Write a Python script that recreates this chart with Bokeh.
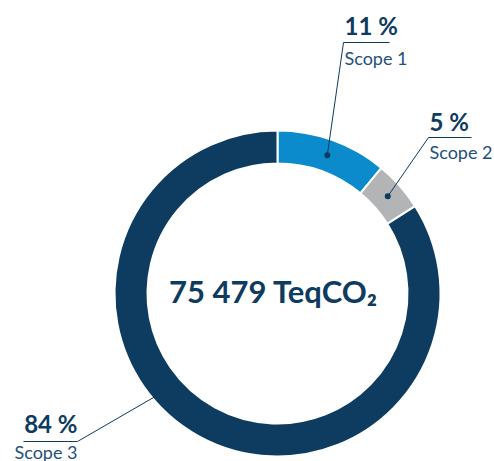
import numpy as np
from bokeh.plotting import figure
from bokeh.models import Range1d
from bokeh.embed import file_html
from bokeh.resources import INLINE
from bokeh.core.properties import value

# ---- data ----
categories = ["Scope 1", "Scope 2", "Scope 3"]
shares = [11, 5, 84]
share_labels = ["11 %", "5 %", "84 %"]
total_label = "75 479 TeqCO\u2082"

# ---- styles ----
colors = ["#0b8bcc", "#b2b4b6", "#0e3c61"]
navy = "#0e3b60"
name_color = "#23507a"
FONT = "Lato"

W, H = 494, 461


def dx(sx):
    return sx


def dy(sy):
    return H - sy


p = figure(width=W, height=H, x_range=Range1d(0, W), y_range=Range1d(0, H),
           output_backend="svg", toolbar_location=None, min_border=0)
p.axis.visible = False
p.grid.visible = False
p.outline_line_color = None

cx, cy = dx(277), dy(293)
R_out, R_in = 163, 130

frac = np.array(shares, dtype=float) / sum(shares)
cum = np.concatenate([[0.0], np.cumsum(frac)])
start = list(np.pi / 2 - 2 * np.pi * cum[1:])
end = list(np.pi / 2 - 2 * np.pi * cum[:-1])
p.annular_wedge(x=cx, y=cy, inner_radius=R_in, outer_radius=R_out,
                start_angle=start, end_angle=end, fill_color=colors,
                line_color="white", line_width=2)

# leader lines / labels (layout in screen px)
mid_deg = [360 * (cum[i] + cum[i + 1]) / 2 for i in range(len(shares))]
leader_deg = [mid_deg[0], mid_deg[1], 229.0]
anchors = [(343, 42, "left", 46), (428, 137, "left", 43), (77, 441, "right", 54)]
pct_baseline = [25, 121, 423]
name_baseline = [57, 151, 451]
R_mid = 147

for i in range(len(shares)):
    ax, ay, align, ulen = anchors[i]
    a = np.pi / 2 - np.deg2rad(leader_deg[i])
    px = cx + R_mid * np.cos(a)
    py = cy + R_mid * np.sin(a)
    if align == "left":
        ux0, ux1 = ax, ax + ulen
        tx = ax + 1
    else:
        ux0, ux1 = ax - ulen, ax
        tx = ax
    p.line([dx(ux0), dx(ux1)], [dy(ay), dy(ay)], line_color=navy, line_width=1)
    p.line([dx(ax), px], [dy(ay), py], line_color=navy, line_width=1)
    p.scatter([px], [py], size=6, fill_color=navy, line_color=None)
    p.text([dx(tx)], [dy(pct_baseline[i])], text=[share_labels[i]],
           text_align=align, text_baseline="alphabetic",
           text_font=value(FONT), text_font_style="bold",
           text_font_size="24px", text_color=navy)
    p.text([dx(tx)], [dy(name_baseline[i])], text=[categories[i]],
           text_align=align, text_baseline="alphabetic",
           text_font=value(FONT), text_font_size="18px", text_color=name_color)

p.text([dx(273)], [dy(290)], text=[total_label], text_align="center",
       text_baseline="alphabetic", text_font=value(FONT), text_font_style="bold",
       text_font_size="31px", text_color=navy)

open("out.html", "w").write(file_html(p, INLINE))
